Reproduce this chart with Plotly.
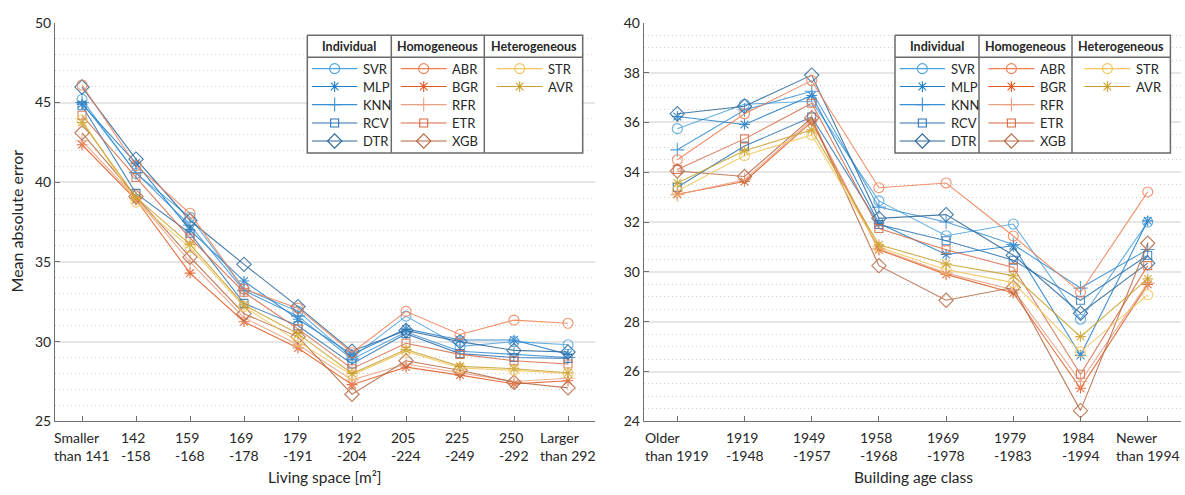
import plotly.graph_objects as go

# ---------------- data ----------------
living_space = ["Smaller<br>than 141", "142<br>-158", "159<br>-168", "169<br>-178", "179<br>-191",
                "192<br>-204", "205<br>-224", "225<br>-249", "250<br>-292", "Larger<br>than 292"]
building_age = ["Older<br>than 1919", "1919<br>-1948", "1949<br>-1957", "1958<br>-1968",
                "1969<br>-1978", "1979<br>-1983", "1984<br>-1994", "Newer<br>than 1994"]

models = ["SVR", "MLP", "KNN", "RCV", "DTR", "ABR", "BGR", "RFR", "ETR", "XGB", "STR", "AVR"]
groups = {"Individual": ["SVR", "MLP", "KNN", "RCV", "DTR"],
          "Homogeneous": ["ABR", "BGR", "RFR", "ETR", "XGB"],
          "Heterogeneous": ["STR", "AVR"]}

mae_living = {
    "SVR": [45.2, 40.55, 37.8, 33.3, 31.9, 29.0, 31.6, 29.7, 30.0, 29.8],
    "MLP": [44.9, 41.2, 37.0, 33.8, 31.4, 29.2, 30.8, 30.1, 30.1, 29.2],
    "KNN": [45.0, 40.6, 37.3, 33.2, 31.6, 28.9, 30.6, 29.4, 29.2, 29.0],
    "RCV": [44.8, 39.3, 36.8, 32.4, 31.0, 28.6, 30.5, 29.25, 29.0, 28.95],
    "DTR": [45.97, 41.45, 37.6, 34.85, 32.2, 29.4, 30.7, 30.0, 29.45, 29.35],
    "ABR": [46.1, 41.05, 38.05, 33.3, 32.1, 29.3, 31.9, 30.45, 31.35, 31.15],
    "BGR": [42.35, 38.9, 34.3, 31.25, 29.6, 27.3, 28.4, 27.9, 27.35, 27.55],
    "RFR": [42.6, 39.0, 35.0, 31.5, 29.8, 27.6, 28.6, 28.05, 27.5, 27.7],
    "ETR": [44.2, 40.3, 36.5, 33.1, 30.8, 28.3, 29.9, 29.2, 28.8, 28.6],
    "XGB": [43.1, 39.1, 35.3, 31.75, 30.3, 26.7, 28.8, 28.2, 27.45, 27.1],
    "STR": [43.9, 38.75, 35.9, 32.2, 30.0, 27.9, 29.4, 28.35, 28.2, 28.0],
    "AVR": [43.75, 39.05, 36.1, 32.3, 30.5, 28.0, 29.5, 28.45, 28.3, 28.05],
}

mae_age = {
    "SVR": [35.75, 36.73, 36.85, 32.85, 31.45, 31.92, 28.1, 32.0],
    "MLP": [36.24, 35.92, 37.08, 31.95, 30.7, 31.05, 26.65, 32.05],
    "KNN": [34.9, 36.5, 37.25, 32.6, 32.0, 31.1, 29.35, 30.9],
    "RCV": [33.4, 35.05, 36.22, 31.9, 31.25, 30.47, 28.86, 30.67],
    "DTR": [36.35, 36.65, 37.9, 32.15, 32.3, 30.67, 28.34, 30.35],
    "ABR": [34.5, 36.35, 37.68, 33.38, 33.57, 31.44, 29.18, 33.21],
    "BGR": [33.12, 33.63, 36.02, 30.89, 29.9, 29.15, 25.33, 29.5],
    "RFR": [33.1, 33.7, 36.1, 30.93, 29.95, 29.28, 25.6, 29.55],
    "ETR": [34.11, 35.34, 36.77, 31.74, 30.89, 30.18, 25.89, 30.25],
    "XGB": [34.05, 33.83, 36.18, 30.25, 28.86, 29.37, 24.43, 31.15],
    "STR": [33.25, 34.67, 35.5, 30.99, 30.09, 29.57, 26.79, 29.08],
    "AVR": [33.57, 34.86, 35.7, 31.09, 30.32, 29.85, 27.4, 29.72],
}

# ---------------- styles ----------------
colors = {"SVR": "#4ba3dd", "MLP": "#1f7dc8", "KNN": "#3b90d2", "RCV": "#2e74b2", "DTR": "#2b6699",
          "ABR": "#f07f55", "BGR": "#e0591f", "RFR": "#e9a184", "ETR": "#d76b45", "XGB": "#b5673f",
          "STR": "#f2c65a", "AVR": "#c9a02a"}
symbols = {"SVR": "circle-open", "MLP": "asterisk-open", "KNN": "cross-thin-open",
           "RCV": "square-open", "DTR": "diamond-open",
           "ABR": "circle-open", "BGR": "asterisk-open", "RFR": "cross-thin-open",
           "ETR": "square-open", "XGB": "diamond-open",
           "STR": "circle-open", "AVR": "asterisk-open"}
sizes = {"circle-open": 10, "asterisk-open": 9, "cross-thin-open": 10,
         "square-open": 8, "diamond-open": 11}

W, H = 1185, 495
FONT = "Lato"
TXT = "#262626"
AXC = "#707070"


def px(x):
    return x / W


def py(y):
    return 1 - y / H


fig = go.Figure()

for m in models:
    sym = symbols[m]
    for xa, ya, cats, vals in (("x", "y", living_space, mae_living[m]),
                               ("x2", "y2", building_age, mae_age[m])):
        fig.add_trace(go.Scatter(
            x=list(range(len(cats))), y=vals, xaxis=xa, yaxis=ya,
            mode="lines+markers", name=m, showlegend=False, opacity=0.85,
            line=dict(color=colors[m], width=1.1),
            marker=dict(symbol=sym, size=sizes[sym], color=colors[m],
                        line=dict(color=colors[m], width=1.1)),
        ))

# ---------------- grouped legend tables (pixel overlay axes) ----------------
legend_left = [307.3, 895.0]
box_w, top, head_y, bottom = 275.4, 27.3, 50.0, 149.0
col_div = [84.0, 177.0]
col_line = [(4.7, 50.0), (93.4, 139.4), (189.4, 235.4)]
row_y = [61.7, 80.3, 99.0, 118.0, 136.7]
heads = list(groups.keys())

for L in legend_left:
    bx = [L, L + box_w, L + box_w, L, L]
    by = [top, top, bottom, bottom, top]
    fig.add_trace(go.Scatter(x=bx, y=by, xaxis="x3", yaxis="y3", mode="lines", fill="toself",
                             fillcolor="white", line=dict(color="#6b6b6b", width=1.5),
                             showlegend=False, hoverinfo="skip"))
    fig.add_trace(go.Scatter(
        x=[L, L + box_w, None, L + col_div[0], L + col_div[0], None, L + col_div[1], L + col_div[1]],
        y=[head_y, head_y, None, top, bottom, None, top, bottom],
        xaxis="x3", yaxis="y3", mode="lines", line=dict(color="#6b6b6b", width=1.5),
        showlegend=False, hoverinfo="skip"))
    for ci, g in enumerate(heads):
        x0, x1 = col_line[ci]
        for ri, m in enumerate(groups[g]):
            yy = row_y[ri]
            sym = symbols[m]
            fig.add_trace(go.Scatter(x=[L + x0, L + x1], y=[yy, yy], xaxis="x3", yaxis="y3",
                                     mode="lines", line=dict(color=colors[m], width=1.1),
                                     showlegend=False, hoverinfo="skip"))
            fig.add_trace(go.Scatter(x=[L + (x0 + x1) / 2], y=[yy], xaxis="x3", yaxis="y3",
                                     mode="markers",
                                     marker=dict(symbol=sym, size=sizes[sym], color=colors[m],
                                                 line=dict(color=colors[m], width=1.1)),
                                     showlegend=False, hoverinfo="skip"))
            fig.add_annotation(x=px(L + x1 + 3.5), y=py(yy), xref="paper", yref="paper",
                               text=m, showarrow=False, xanchor="left", yanchor="middle",
                               font=dict(family=FONT, size=13, color=TXT))
        hx0 = L if ci == 0 else L + col_div[ci - 1]
        hx1 = L + col_div[ci] if ci < 2 else L + box_w
        fig.add_annotation(x=px((hx0 + hx1) / 2), y=py((top + head_y) / 2), xref="paper",
                           yref="paper", text="<b>%s</b>" % g, showarrow=False,
                           xanchor="center", yanchor="middle",
                           font=dict(family=FONT, size=12.5, color=TXT))

# ---------------- category labels (left-aligned two-line blocks) ----------------
for xa, cats in (("x", living_space), ("x2", building_age)):
    for i, c in enumerate(cats):
        fig.add_annotation(x=i, y=py(433), xref=xa, yref="paper", text=c, showarrow=False,
                           xanchor="center", yanchor="top", align="left",
                           font=dict(family=FONT, size=14, color=TXT))

fig.add_annotation(x=px(325), y=py(485), xref="paper", yref="paper", text="Living space [m²]",
                   showarrow=False, xanchor="center", yanchor="middle",
                   font=dict(family=FONT, size=15.5, color=TXT))
fig.add_annotation(x=px(913), y=py(485), xref="paper", yref="paper", text="Building age class",
                   showarrow=False, xanchor="center", yanchor="middle",
                   font=dict(family=FONT, size=15.5, color=TXT))
fig.add_annotation(x=px(16), y=py(220), xref="paper", yref="paper", text="Mean absolute error",
                   showarrow=False, textangle=-90, xanchor="center", yanchor="middle",
                   font=dict(family=FONT, size=16, color=TXT))

# ---------------- axes ----------------
ydom = [py(427), py(14.3)]
xcommon = dict(showgrid=False, zeroline=False, showline=True, linecolor=AXC, linewidth=1,
               ticks="inside", ticklen=5, tickcolor=AXC, showticklabels=False, fixedrange=True)
ycommon = dict(showgrid=True, gridcolor="#e6e6e6", gridwidth=1.5, zeroline=False, showline=True,
               linecolor=AXC, linewidth=1, ticks="inside", ticklen=5, tickcolor=AXC,
               tickfont=dict(family=FONT, size=14, color=TXT), fixedrange=True)
minor_grid = dict(showgrid=True, gridcolor="#d0d0d0", griddash="1px,3px", gridwidth=1, ticks="")

fig.update_layout(
    width=W, height=H, margin=dict(l=0, r=0, t=0, b=0),
    paper_bgcolor="white", plot_bgcolor="rgba(0,0,0,0)",
    font=dict(family=FONT, size=14, color=TXT),
    xaxis=dict(domain=[px(55), px(595)], range=[-0.5, 9.5], tickvals=list(range(10)),
               anchor="y", **xcommon),
    yaxis=dict(domain=ydom, range=[25, 50], tickvals=[25, 30, 35, 40, 45, 50], anchor="x",
               minor=dict(dtick=1, **minor_grid), **ycommon),
    xaxis2=dict(domain=[px(643.7), px(1181.3)], range=[-0.5, 7.5], tickvals=list(range(8)),
                anchor="y2", **xcommon),
    yaxis2=dict(domain=ydom, range=[24, 40], tickvals=list(range(24, 41, 2)), anchor="x2",
                minor=dict(dtick=0.5, **minor_grid), **ycommon),
    xaxis3=dict(domain=[0, 1], range=[0, W], visible=False, anchor="y3", fixedrange=True),
    yaxis3=dict(domain=[0, 1], range=[H, 0], visible=False, anchor="x3", fixedrange=True),
)

fig.write_html("out.html")
